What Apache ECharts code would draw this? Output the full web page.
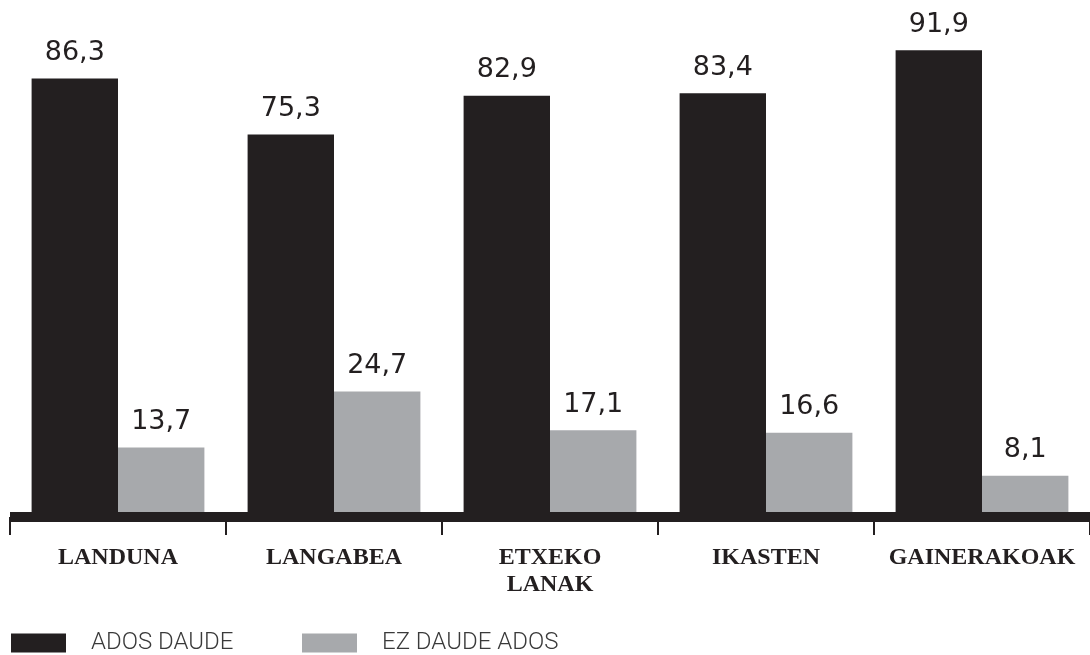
<!DOCTYPE html>
<html>
<head>
<meta charset="utf-8">
<script src="https://cdn.jsdelivr.net/npm/echarts@6/dist/echarts.min.js"></script>
<style>
  html, body { margin: 0; padding: 0; background: #fff; }
  #Bar { width: 1090px; height: 655px; }
</style>
</head>
<body>
<div id="Bar"></div>
<script>
var categories = ['LANDUNA', 'LANGABEA', 'ETXEKO\nLANAK', 'IKASTEN', 'GAINERAKOAK'];
var series_names = ['ADOS DAUDE', 'EZ DAUDE ADOS'];
var ados_daude = [86.3, 75.3, 82.9, 83.4, 91.9];
var ez_daude_ados = [13.7, 24.7, 17.1, 16.6, 8.1];

var BLACK = '#231f20';
var GREY = '#a7a9ac';

function showBar() {
    var myChart_bar = echarts.init(document.getElementById('Bar'));

    // etiketak koma hamartarrarekin
    var valueLabel = {
        show: true,
        position: 'top',
        distance: 12,
        color: BLACK,
        fontFamily: 'DejaVu Sans',
        fontWeight: 500,
        fontSize: 27,
        formatter: function (p) {
            return p.value.toFixed(1).replace('.', ',');
        }
    };

    var legendText = {
        color: '#3a3a3a',
        fontFamily: 'Roboto',
        fontWeight: 300,
        fontSize: 24,
        padding: [0, 0, 0, 20]
    };

    var option_bar = {
        animation: false,
        backgroundColor: '#fff',
        grid: {
            left: 10,
            width: 1086,
            top: 9,
            bottom: 138
        },
        legend: [{
            data: [series_names[0]],
            left: 6,
            top: 626,
            icon: 'rect',
            itemWidth: 55,
            itemHeight: 19,
            textStyle: legendText
        }, {
            data: [series_names[1]],
            left: 297,
            top: 626,
            icon: 'rect',
            itemWidth: 55,
            itemHeight: 19,
            textStyle: legendText
        }],
        xAxis: {
            type: 'category',
            data: categories,
            z: 10,
            axisLine: {
                show: true,
                lineStyle: { color: BLACK, width: 10, cap: 'butt' }
            },
            axisTick: {
                show: true,
                inside: false,
                length: 18,
                lineStyle: { color: BLACK, width: 2 }
            },
            axisLabel: {
                interval: 0,
                margin: 27,
                color: BLACK,
                fontFamily: 'Liberation Serif',
                fontWeight: 'bold',
                fontSize: 24,
                lineHeight: 27
            }
        },
        yAxis: {
            type: 'value',
            min: 0,
            max: 100,
            show: false,
            splitLine: { show: false }
        },
        series: [{
            name: series_names[0],
            type: 'bar',
            data: ados_daude,
            barGap: '0%',
            barCategoryGap: '20%',
            itemStyle: { color: BLACK },
            label: valueLabel
        }, {
            name: series_names[1],
            type: 'bar',
            data: ez_daude_ados,
            itemStyle: { color: GREY },
            label: valueLabel
        }]
    };
    myChart_bar.setOption(option_bar);
}

showBar();
</script>
</body>
</html>
